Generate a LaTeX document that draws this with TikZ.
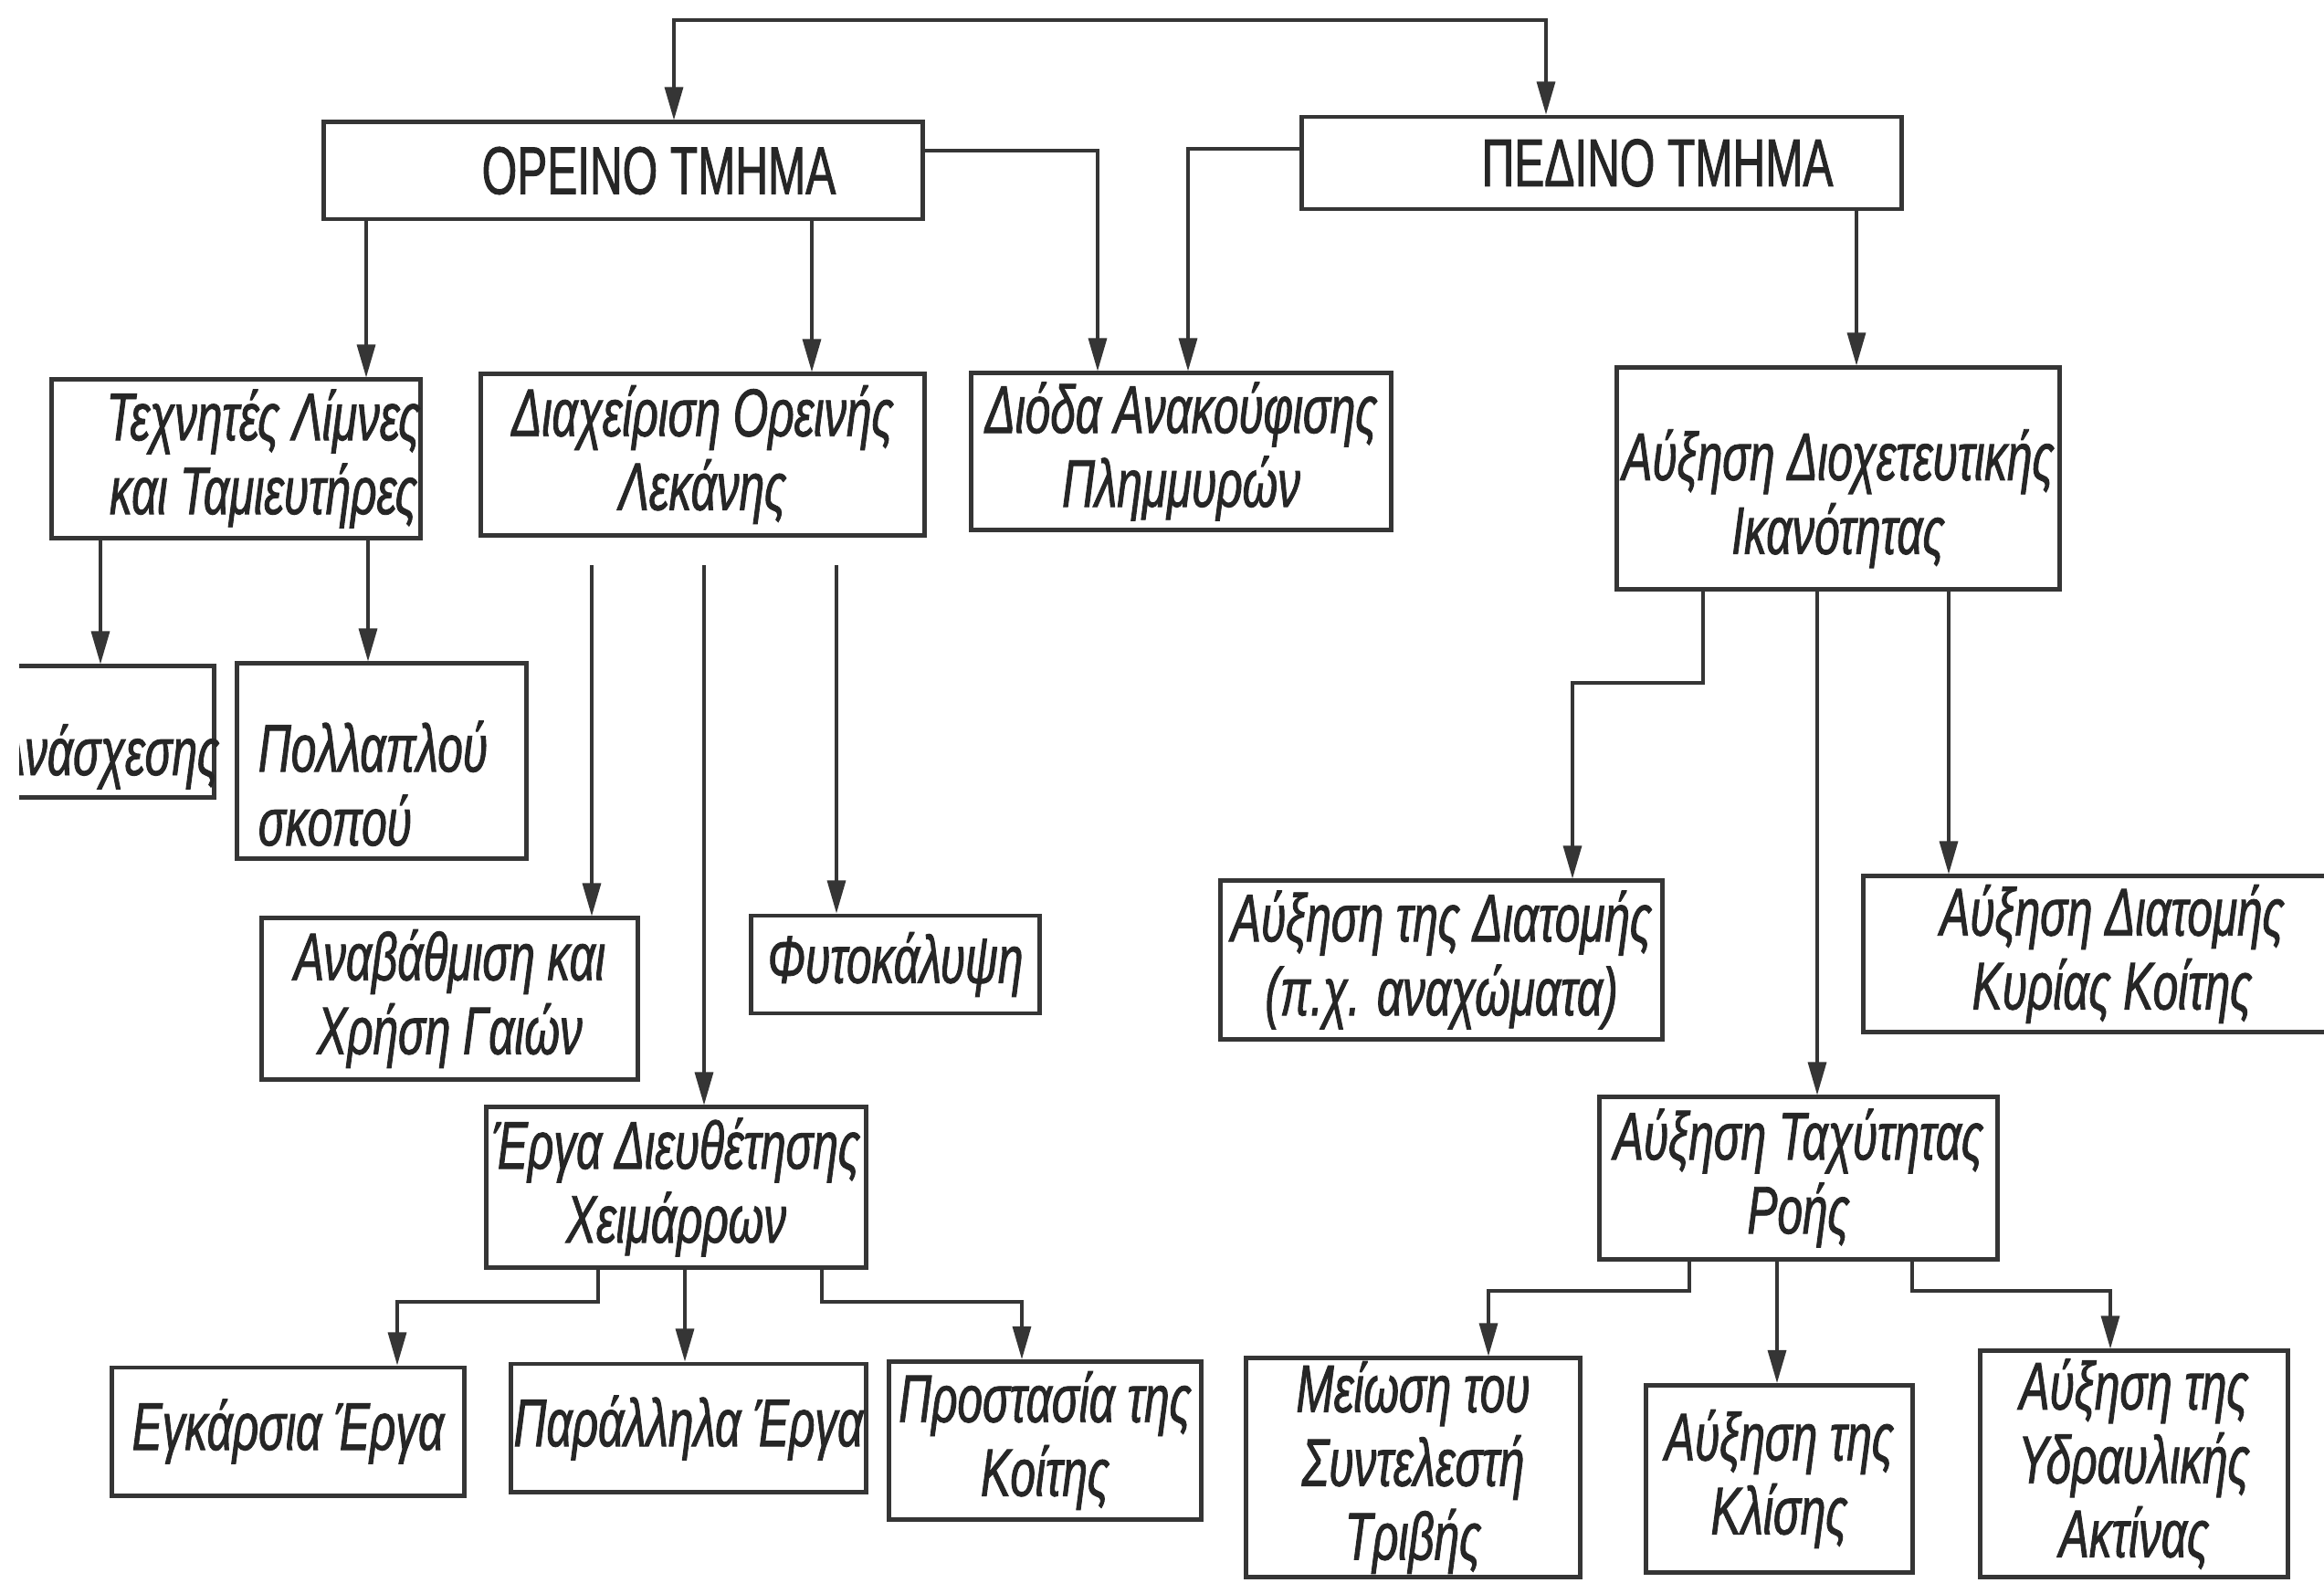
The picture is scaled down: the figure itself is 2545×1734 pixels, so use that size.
\documentclass[tikz,border=0pt]{standalone}
\usepackage{fontspec}
\setmainfont{Liberation Sans}[FakeStretch=0.67,FakeBold=1.2]
\usetikzlibrary{arrows.meta}
\definecolor{ink}{HTML}{353535}
\definecolor{txt}{HTML}{262626}
\begin{document}
\begin{tikzpicture}[x=0.01cm,y=-0.01cm,
  box/.style={draw=ink, line width=1.4pt, rectangle, inner sep=0pt, align=center, text=txt,
              font=\fontsize{21}{23}\selectfont\itshape},
  head/.style={box, font=\fontsize{21}{23}\selectfont},
  arr/.style={draw=ink, line width=0.9pt, -{Triangle[length=0.36cm,width=0.2cm]}},
  arrboth/.style={draw=ink, line width=0.9pt, {Triangle[length=0.36cm,width=0.2cm]}-{Triangle[length=0.36cm,width=0.2cm]}}]
\clip (0,0) rectangle (2545,1734);
\fill[white] (0,0) rectangle (2545,1734);

% ---- top level
\node[head, minimum width=6.55cm, minimum height=1.06cm] (oreino) at (682.5,187) {\hspace*{0.78cm}ΟΡΕΙΝΟ ΤΜΗΜΑ};
\node[head, minimum width=6.56cm, minimum height=1.01cm] (pedino) at (1754,178.5) {\hspace*{1.22cm}ΠΕΔΙΝΟ ΤΜΗΜΑ};

% ---- second level
\node[box, minimum width=3.93cm, minimum height=1.73cm] (tech) at (258.5,502.5) {\hspace*{0.6cm}Τεχνητές Λίμνες\\\hspace*{0.6cm}και Ταμιευτήρες};
\node[box, minimum width=4.85cm, minimum height=1.76cm] (diax) at (769.5,498) {Διαχείριση Ορεινής\\Λεκάνης};
\node[box, minimum width=4.59cm, minimum height=1.71cm] (diodos) at (1293.5,494.5) {Διόδα Ανακούφισης\\Πλημμυρών};
\node[box, minimum width=4.84cm, minimum height=2.42cm] (auxdiox) at (2013,524) {\rule{0pt}{1.0cm}Αύξηση Διοχετευτικής\\Ικανότητας};

% ---- left branch
\begin{scope}
\clip (21,600) rectangle (600,1000);
\node[box, text width=2.94cm, minimum height=1.43cm, align=right, text height=0.95cm, text depth=0cm] (anasx) at (87,801.5) {Ανάσχεσης\hspace*{-0.06cm}};
\end{scope}
\node[box, text width=2.7cm, minimum width=3.16cm, minimum height=2.13cm, align=left] (poll) at (418,833.5) {\rule{0pt}{1.05cm}Πολλαπλού\\σκοπού};
\node[box, minimum width=4.11cm, minimum height=1.76cm] (anav) at (492.5,1094) {Αναβάθμιση και\\Χρήση Γαιών};
\node[box, minimum width=3.15cm, minimum height=1.07cm] (fyto) at (980.5,1056.5) {Φυτοκάλυψη};
\node[box, minimum width=4.15cm, minimum height=1.75cm] (erga) at (740.5,1300.5) {Έργα Διευθέτησης\\Χειμάρρων};
\node[box, minimum width=3.85cm, minimum height=1.40cm] (egk) at (315.5,1568) {Εγκάρσια Έργα};
\node[box, minimum width=3.88cm, minimum height=1.40cm] (para) at (754,1564) {Παράλληλα Έργα};
\node[box, minimum width=3.41cm, minimum height=1.73cm] (prost) at (1144.5,1578) {Προστασία της\\Κοίτης};

% ---- right branch
\node[box, minimum width=4.83cm, minimum height=1.73cm] (auxdiat) at (1578.5,1051.5) {Αύξηση της Διατομής\\(π.χ. αναχώματα)};
\node[box, minimum width=5.44cm, minimum height=1.70cm] (kyrias) at (2313,1045) {Αύξηση Διατομής\\Κυρίας Κοίτης};
\node[box, minimum width=4.35cm, minimum height=1.77cm] (tax) at (1969.5,1290.5) {Αύξηση Ταχύτητας\\Ροής};
\node[box, minimum width=3.65cm, minimum height=2.39cm] (meiosi) at (1547.5,1607.5) {Μείωση του\\Συντελεστή\\Τριβής};
\node[box, minimum width=2.91cm, minimum height=2.05cm] (klisi) at (1948.5,1620) {Αύξηση της\\Κλίσης};
\node[box, minimum width=3.36cm, minimum height=2.47cm] (ydr) at (2337,1603.5) {Αύξηση της\\Υδραυλικής\\Ακτίνας};

% ---- connectors
\coordinate (tL) at (738,22);
\coordinate (tR) at (1693,22);
\draw[arrboth] (oreino.north -| tL) -- (tL) -- (tR) -- (pedino.north -| tR);

\draw[arr] (oreino.south -| 401,0) -- (tech.north -| 401,0);
\draw[arr] (oreino.south -| 889,0) -- (diax.north -| 889,0);
\draw[arr] (oreino.east |- 0,165) -| (diodos.north -| 1202,0);
\draw[arr] (pedino.west |- 0,163) -| (diodos.north -| 1301,0);
\draw[arr] (pedino.south -| 2033,0) -- (auxdiox.north -| 2033,0);

\draw[arr] (tech.south -| 110,0) -- (anasx.north -| 110,0);
\draw[arr] (tech.south -| 403,0) -- (poll.north -| 403,0);

\coordinate (f1) at (648,619);
\coordinate (f2) at (771,619);
\coordinate (f3) at (916,619);
\draw[arr] (f1) -- (anav.north -| f1);
\draw[arr] (f2) -- (erga.north -| f2);
\draw[arr] (f3) -- (fyto.north -| f3);

\draw[arr] (erga.south -| 655,0) -- (655,1426) -| (egk.north -| 435,0);
\draw[arr] (erga.south -| 750,0) -- (para.north -| 750,0);
\draw[arr] (erga.south -| 900,0) -- (900,1426) -| (prost.north -| 1119,0);

\draw[arr] (auxdiox.south -| 1865,0) -- (1865,748) -| (auxdiat.north -| 1722,0);
\draw[arr] (auxdiox.south -| 1990,0) -- (tax.north -| 1990,0);
\draw[arr] (auxdiox.south -| 2134,0) -- (kyrias.north -| 2134,0);

\draw[arr] (tax.south -| 1850,0) -- (1850,1414) -| (meiosi.north -| 1630,0);
\draw[arr] (tax.south -| 1946,0) -- (klisi.north -| 1946,0);
\draw[arr] (tax.south -| 2094,0) -- (2094,1414) -| (ydr.north -| 2311,0);
\end{tikzpicture}
\end{document}
